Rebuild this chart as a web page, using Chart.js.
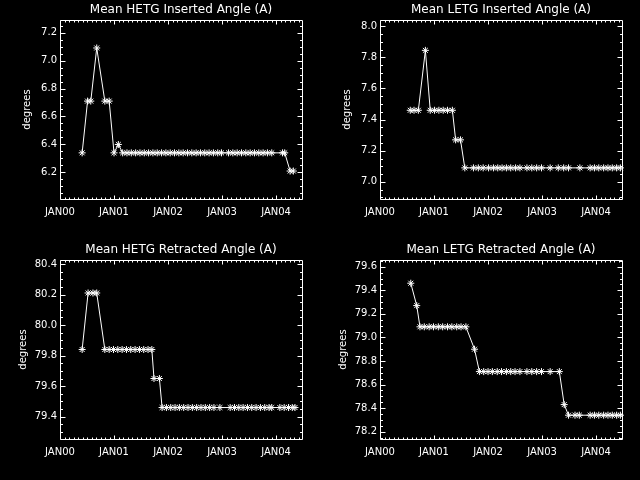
<!DOCTYPE html>
<html>
<head>
<meta charset="utf-8">
<script src="https://cdn.jsdelivr.net/npm/chart.js@4.4.0/dist/chart.umd.min.js"></script>
<style>
  html, body { margin: 0; padding: 0; background: #000; }
  #wrap { width: 640px; height: 480px; display: grid; grid-template-columns: 320px 320px; grid-template-rows: 240px 240px; }
  canvas { display: block; }
</style>
</head>
<body>
<div id="wrap">
  <canvas id="c1" width="320" height="240"></canvas>
  <canvas id="c2" width="320" height="240"></canvas>
  <canvas id="c3" width="320" height="240"></canvas>
  <canvas id="c4" width="320" height="240"></canvas>
</div>
<script>
// x values are years since JAN 2000
var yearLabels = ['JAN00', 'JAN01', 'JAN02', 'JAN03', 'JAN04'];
var xMax = 4.48;

// Mean HETG Inserted Angle
var hetgInX = [0.41, 0.51, 0.57, 0.68, 0.83, 0.91, 1.00, 1.08,
  1.16, 1.24, 1.32, 1.40, 1.48, 1.56, 1.64, 1.72, 1.80, 1.88, 1.96, 2.04,
  2.12, 2.20, 2.28, 2.36, 2.44, 2.52, 2.60, 2.68, 2.76, 2.84, 2.92, 2.99,
  3.12, 3.20, 3.28, 3.36, 3.44, 3.52, 3.60, 3.68, 3.76, 3.84, 3.92,
  4.12, 4.16, 4.26, 4.32];
var hetgInY = [6.34, 6.71, 6.71, 7.09, 6.71, 6.71, 6.34, 6.40,
  6.34, 6.34, 6.34, 6.34, 6.34, 6.34, 6.34, 6.34, 6.34, 6.34, 6.34, 6.34,
  6.34, 6.34, 6.34, 6.34, 6.34, 6.34, 6.34, 6.34, 6.34, 6.34, 6.34, 6.34,
  6.34, 6.34, 6.34, 6.34, 6.34, 6.34, 6.34, 6.34, 6.34, 6.34, 6.34,
  6.34, 6.34, 6.21, 6.21];

// Mean LETG Inserted Angle
var letgInX = [0.56, 0.63, 0.71, 0.84, 0.93, 1.01, 1.09, 1.17, 1.25, 1.34,
  1.40, 1.49,
  1.57, 1.73, 1.82, 1.91, 2.01, 2.10, 2.18, 2.26, 2.34, 2.42, 2.51, 2.59,
  2.72, 2.81, 2.90, 2.99, 3.15, 3.30, 3.40, 3.49, 3.70,
  3.89, 3.97, 4.05, 4.14, 4.22, 4.30, 4.38, 4.45];
var letgInY = [7.46, 7.46, 7.46, 7.845, 7.46, 7.46, 7.46, 7.46, 7.46, 7.46,
  7.27, 7.27,
  7.09, 7.09, 7.09, 7.09, 7.09, 7.09, 7.09, 7.09, 7.09, 7.09, 7.09, 7.09,
  7.09, 7.09, 7.09, 7.09, 7.09, 7.09, 7.09, 7.09, 7.09,
  7.09, 7.09, 7.09, 7.09, 7.09, 7.09, 7.09, 7.09];

// Mean HETG Retracted Angle
var hetgOutX = [0.41, 0.52, 0.61, 0.68,
  0.83, 0.91, 0.99, 1.07, 1.15, 1.23, 1.31, 1.39, 1.47, 1.55, 1.63, 1.70,
  1.74, 1.84,
  1.89, 1.97, 2.05, 2.13, 2.21, 2.29, 2.37, 2.45, 2.53, 2.61, 2.69, 2.77, 2.85, 2.96,
  3.15, 3.23, 3.31, 3.39, 3.47, 3.55, 3.63, 3.71, 3.79, 3.87, 3.92,
  4.07, 4.15, 4.23, 4.30, 4.35];
var hetgOutY = [79.84, 80.21, 80.21, 80.21,
  79.84, 79.84, 79.84, 79.84, 79.84, 79.84, 79.84, 79.84, 79.84, 79.84, 79.84, 79.84,
  79.65, 79.65,
  79.46, 79.46, 79.46, 79.46, 79.46, 79.46, 79.46, 79.46, 79.46, 79.46, 79.46, 79.46, 79.46, 79.46,
  79.46, 79.46, 79.46, 79.46, 79.46, 79.46, 79.46, 79.46, 79.46, 79.46, 79.46,
  79.46, 79.46, 79.46, 79.46, 79.46];

// Mean LETG Retracted Angle
var letgOutX = [0.57, 0.68,
  0.74, 0.82, 0.91, 0.99, 1.08, 1.16, 1.25, 1.33, 1.42, 1.50, 1.59,
  1.75,
  1.84, 1.92, 2.00, 2.08, 2.17, 2.25, 2.34, 2.42, 2.50, 2.59,
  2.72, 2.81, 2.90, 2.99, 3.15, 3.32,
  3.41,
  3.49, 3.61, 3.69, 3.89, 3.97, 4.05, 4.14, 4.22, 4.30, 4.38, 4.45];
var letgOutY = [79.46, 79.27,
  79.09, 79.09, 79.09, 79.09, 79.09, 79.09, 79.09, 79.09, 79.09, 79.09, 79.09,
  78.90,
  78.71, 78.71, 78.71, 78.71, 78.71, 78.71, 78.71, 78.71, 78.71, 78.71,
  78.71, 78.71, 78.71, 78.71, 78.71, 78.71,
  78.43,
  78.34, 78.34, 78.34, 78.34, 78.34, 78.34, 78.34, 78.34, 78.34, 78.34, 78.34];

var FONT = 'DejaVu Sans';

// IDL style frame: box with inward major/minor ticks on all four sides
var idlFrame = {
  id: 'idlFrame',
  afterDatasetsDraw: function (chart) {
    var ctx = chart.ctx, a = chart.chartArea;
    var x = chart.scales.x, y = chart.scales.y;
    ctx.save();
    ctx.strokeStyle = '#fff';
    ctx.lineWidth = 1;
    ctx.beginPath();
    ctx.rect(a.left + 0.5, a.top + 0.5, a.right - a.left, a.bottom - a.top);
    var m, px, len;
    for (m = Math.ceil(x.min * 12 - 1e-6); m <= x.max * 12 + 1e-6; m++) {
      px = Math.round(x.getPixelForValue(m / 12)) + 0.5;
      len = (m % 12 === 0) ? 4 : 2;
      ctx.moveTo(px, a.bottom + 0.5); ctx.lineTo(px, a.bottom + 0.5 - len);
      ctx.moveTo(px, a.top + 0.5); ctx.lineTo(px, a.top + 0.5 + len);
    }
    for (m = Math.ceil(y.min * 20 - 1e-6); m <= y.max * 20 + 1e-6; m++) {
      px = Math.round(y.getPixelForValue(m / 20)) + 0.5;
      len = (m % 4 === 0) ? 5 : 2.5;
      ctx.moveTo(a.left + 0.5, px); ctx.lineTo(a.left + 0.5 + len, px);
      ctx.moveTo(a.right + 0.5, px); ctx.lineTo(a.right + 0.5 - len, px);
    }
    ctx.stroke();
    ctx.restore();
  }
};

function makeChart(id, title, xs, ys, yMin, yMax, yTitlePad) {
  var pts = xs.map(function (v, i) { return { x: v, y: ys[i] }; });
  return new Chart(document.getElementById(id), {
    type: 'line',
    data: {
      datasets: [{
        data: pts,
        borderColor: '#fff',
        borderWidth: 1,
        tension: 0,
        pointStyle: 'star',
        pointRadius: 3.5,
        pointBorderColor: '#fff',
        pointBorderWidth: 1,
        pointBackgroundColor: '#fff',
        clip: 4
      }]
    },
    options: {
      responsive: false,
      animation: false,
      devicePixelRatio: 1,
      layout: { padding: { left: 0, right: 18, top: 0, bottom: 0 } },
      plugins: {
        legend: { display: false },
        tooltip: { enabled: false },
        title: {
          display: true,
          text: title,
          color: '#fff',
          fullSize: false,
          font: { family: FONT, size: 12, weight: 'normal', lineHeight: 1.2 },
          padding: { top: 2.8, bottom: 2.8 }
        }
      },
      scales: {
        x: {
          type: 'linear',
          min: 0,
          max: xMax,
          grid: { display: false, drawTicks: false },
          border: { display: false },
          ticks: {
            stepSize: 1,
            includeBounds: false,
            maxRotation: 0,
            autoSkip: false,
            padding: 7,
            color: '#fff',
            font: { family: FONT, size: 10 },
            callback: function (v) { return yearLabels[v]; }
          },
          afterFit: function (s) { s.height = 41; }
        },
        y: {
          min: yMin,
          max: yMax,
          grid: { display: false, drawTicks: false },
          border: { display: false },
          title: {
            display: true,
            text: 'degrees',
            color: '#fff',
            font: { family: FONT, size: 10 },
            padding: { top: yTitlePad, bottom: 0 }
          },
          ticks: {
            stepSize: 0.2,
            includeBounds: false,
            padding: 3,
            color: '#fff',
            font: { family: FONT, size: 10 },
            callback: function (v) { return v.toFixed(1); }
          },
          afterFit: function (s) { s.width = 60; }
        }
      }
    },
    plugins: [idlFrame]
  });
}

makeChart('c1', 'Mean HETG Inserted Angle (A)', hetgInX, hetgInY, 6.01, 7.29, 21);
makeChart('c2', 'Mean LETG Inserted Angle (A)', letgInX, letgInY, 6.89, 8.04, 21);
makeChart('c3', 'Mean HETG Retracted Angle (A)', hetgOutX, hetgOutY, 79.254, 80.426, 17);
makeChart('c4', 'Mean LETG Retracted Angle (A)', letgOutX, letgOutY, 78.138, 79.657, 17);
</script>
</body>
</html>
